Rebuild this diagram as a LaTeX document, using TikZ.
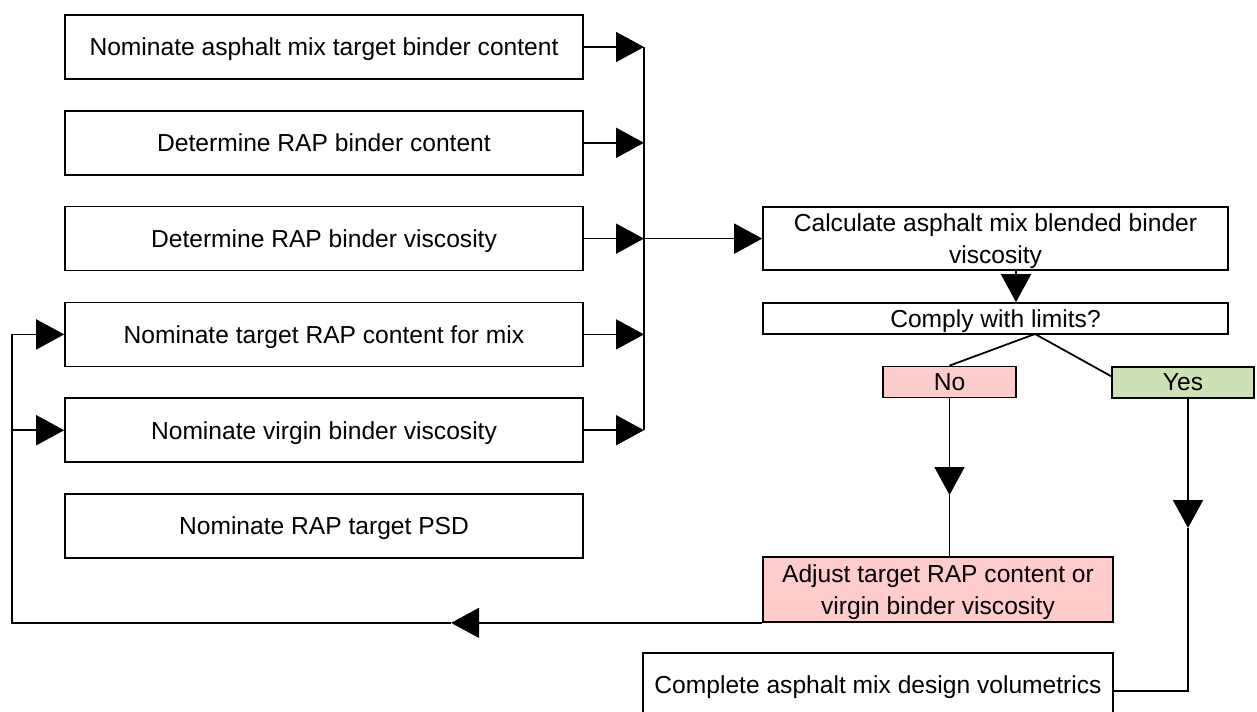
\documentclass[tikz,border=0pt]{standalone}
\usepackage{fontspec}
\setmainfont{Liberation Sans}
\usetikzlibrary{arrows.meta}

\definecolor{nofill}{RGB}{255,204,204}
\definecolor{yesfill}{RGB}{204,226,180}

\begin{document}
\begin{tikzpicture}[x=0.02cm, y=-0.02cm, >={Triangle[length=0.56cm, width=0.6cm]}, line width=1pt,
    every node/.style={font=\fontsize{14}{18}\selectfont},
    stepbox/.style={draw, rectangle, minimum width=10.36cm, minimum height=1.28cm, inner sep=0pt, text depth=0pt, align=center},
    answer/.style={draw, rectangle, minimum height=0.62cm, inner sep=0pt, text depth=0pt}]

    \useasboundingbox (0,0) rectangle (1257,711);

    % Input boxes on the left
    \foreach \t [count=\i] in {Nominate asphalt mix target binder content,
        Determine RAP binder content, Determine RAP binder viscosity,
        Nominate target RAP content for mix, Nominate virgin binder viscosity,
        Nominate RAP target PSD} {
        \node[stepbox] (input-\i) at (324, 47 + 95.8*\i - 95.8) {\t};
    }

    % Collecting line
    \foreach \i in {1,...,5} {
        \coordinate (bus-\i) at (644, 47 + 95.8*\i - 95.8);
        \draw[->] (input-\i.east) -- (bus-\i);
    }
    \draw (bus-1) -- (bus-5);

    % Calculation and check
    \node[stepbox, minimum width=9.3cm, minimum height=1.26cm] (calc) at (995.5, 238.6) {Calculate asphalt mix blended binder\\viscosity};
    \node[stepbox, minimum width=9.3cm, minimum height=0.62cm] (comply) at (995.5, 318.5) {Comply with limits?};
    \draw[->] (bus-3) -- (calc.west);
    \draw[->] ([xshift=0.41cm]calc.south) -- ([xshift=0.41cm]comply.north);

    % Answers
    \node[answer, fill=nofill, minimum width=2.66cm] (no) at (949.5, 382) {No};
    \node[answer, fill=yesfill, minimum width=2.84cm] (yes) at (1183, 382.5) {Yes};
    \coordinate (split) at (1035, 334);
    \draw (split) -- (no.north);
    \draw (split) -- (yes.175);

    % No branch
    \node[stepbox, fill=nofill, minimum width=7cm, minimum height=1.3cm] (adjust) at (938, 589.5) {Adjust target RAP content or\\virgin binder viscosity};
    \coordinate (no-mid) at (949.5, 495);
    \draw[->] (no.south) -- (no-mid);
    \draw (no-mid) -- (no.south |- adjust.north);

    % Yes branch
    \node[stepbox, minimum width=9.4cm] (complete) at (878, 685) {Complete asphalt mix design volumetrics};
    \coordinate (yes-mid) at (1188, 528);
    \coordinate (yes-turn) at (1188, 691);
    \draw[->] ([xshift=0.1cm]yes.south) -- (yes-mid);
    \draw (yes-mid) -- (yes-turn) -- (yes-turn -| complete.east);

    % Feedback loop
    \path (adjust.south west) ++(-311,0) coordinate (back-mid) ++(-439,0) coordinate (back-corner);
    \draw[->] (adjust.south west) -- (back-mid);
    \draw (back-mid) -- (back-corner) -- (back-corner |- input-4.west);
    \draw[->] (back-corner |- input-4.west) -- (input-4.west);
    \draw[->] (back-corner |- input-5.west) -- (input-5.west);

\end{tikzpicture}
\end{document}
